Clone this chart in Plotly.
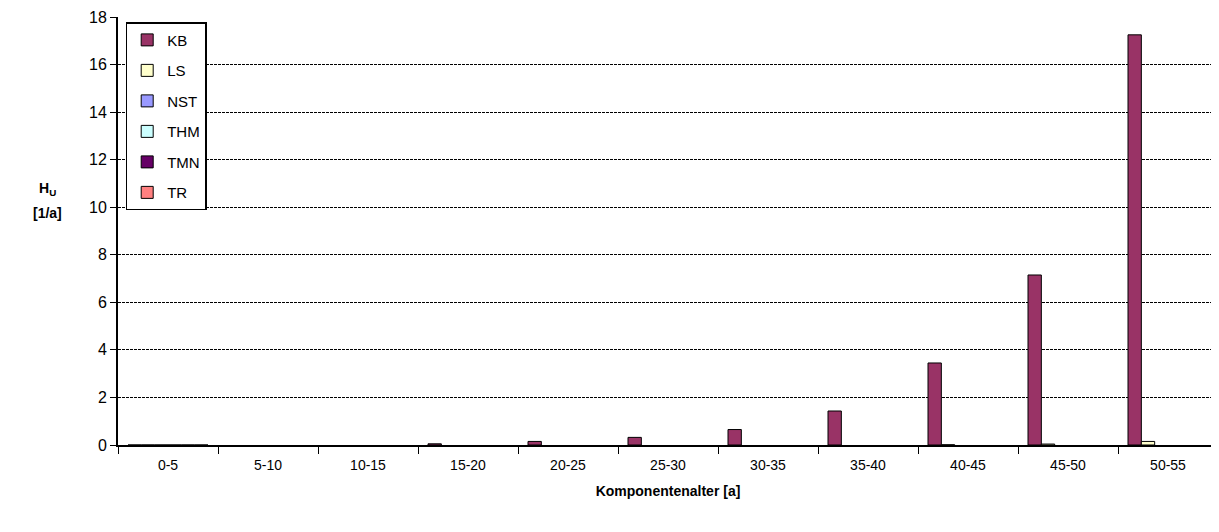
import plotly.graph_objects as go

categories = ["0-5", "5-10", "10-15", "15-20", "20-25", "25-30",
              "30-35", "35-40", "40-45", "45-50", "50-55"]

kb = [0, 0, 0, 0.05, 0.15, 0.32, 0.65, 1.43, 3.45, 7.15, 17.25]
ls = [0, 0, 0, 0, 0, 0, 0, 0, 0.01, 0.04, 0.15]
nst = [0] * 11
thm = [0] * 11
tmn = [0] * 11
tr = [0] * 11

series = [
    ("KB", kb, "#993366"),
    ("LS", ls, "#FFFFCC"),
    ("NST", nst, "#9999FF"),
    ("THM", thm, "#CCFFFF"),
    ("TMN", tmn, "#660066"),
    ("TR", tr, "#FF8080"),
]

fig = go.Figure()
for name, vals, col in series:
    # no outline on empty bars; first point keeps one so the legend swatch has a border
    widths = [1 if v > 0 else 0 for v in vals]
    widths[0] = 1
    fig.add_trace(go.Bar(x=categories, y=vals, name=name, legendgroup=name,
                         marker=dict(color=col, line=dict(color="black", width=widths))))

font = "Liberation Sans, Arial, sans-serif"
# page body has an 8px margin, so the figure is shifted by 8px
fig.update_layout(
    width=1211, height=524,
    margin=dict(l=110, r=1, t=7, b=87),
    paper_bgcolor="white", plot_bgcolor="white",
    barmode="group", bargap=0.2, bargroupgap=0,
    font=dict(family=font, size=14, color="black"),
    legend=dict(x=0.007, y=0.988, xanchor="left", yanchor="top",
                bordercolor="black", borderwidth=1.5, bgcolor="white",
                tracegroupgap=8, font=dict(size=15)),
    xaxis=dict(showline=True, linecolor="black", linewidth=2,
               ticks="outside", ticklen=7, tickcolor="black", tickwidth=1,
               tickson="boundaries", showgrid=False, tickfont=dict(size=14),
               ticklabelstandoff=6,
               title=dict(text="<b>Komponentenalter [a]</b>", font=dict(size=14), standoff=14)),
    yaxis=dict(range=[0, 18], dtick=2, showline=True, linecolor="black", linewidth=2,
               ticks="outside", ticklen=6, tickcolor="black", tickwidth=1,
               showgrid=True, gridcolor="black", gridwidth=1, griddash="3px,1px",
               tickfont=dict(size=16), zeroline=False, ticklabeloverflow="allow"),
    annotations=[
        dict(text="<b>H<sub>U</sub></b>", xref="paper", yref="paper",
             x=-0.064, y=0.598, showarrow=False, font=dict(size=14),
             xanchor="center", yanchor="middle"),
        dict(text="<b>[1/a]</b>", xref="paper", yref="paper",
             x=-0.064, y=0.542, showarrow=False, font=dict(size=14),
             xanchor="center", yanchor="middle"),
    ],
)

fig.write_html("out.html")
